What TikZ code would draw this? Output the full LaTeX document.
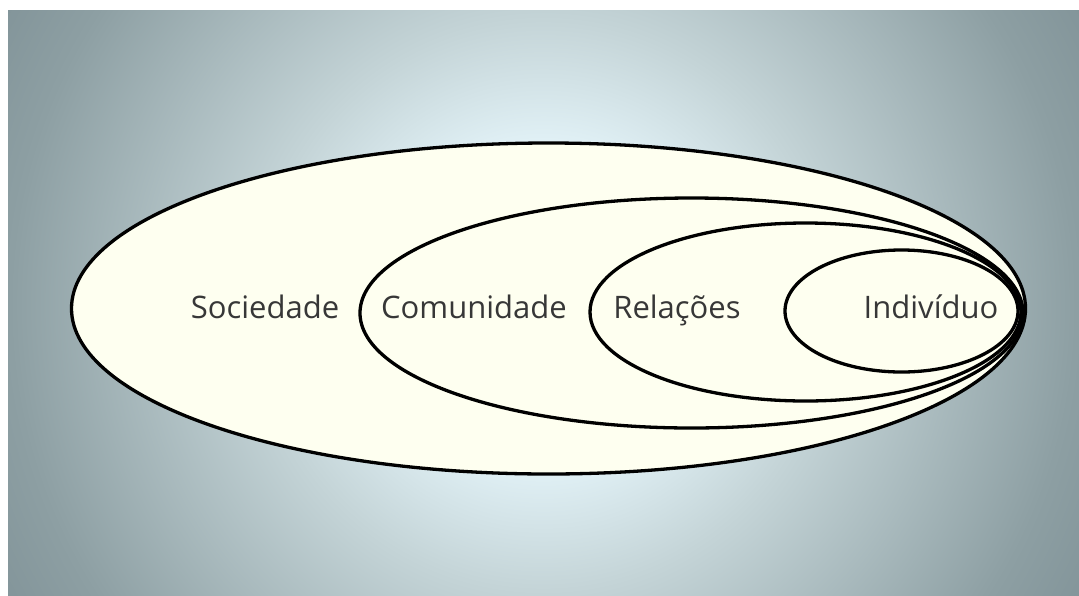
\documentclass[tikz,border=0pt]{standalone}
\usepackage{fontspec}
\setmainfont{Open Sans}
\usepackage{xcolor}
\usepackage{tikz}
\usetikzlibrary{shapes.geometric}
\definecolor{bgin}{RGB}{225,241,246}
\definecolor{bgmid}{RGB}{196,212,215}
\definecolor{bgedge}{RGB}{141,159,163}
\definecolor{bgout}{RGB}{130,148,153}
\definecolor{ivory}{RGB}{254,255,240}
\definecolor{textgray}{RGB}{55,55,55}
\pgfdeclareradialshading{backdrop}{\pgfpoint{0bp}{0bp}}{color(0bp)=(bgin); color(6.5bp)=(bgin); color(11.5bp)=(bgmid); color(21.5bp)=(bgedge); color(25bp)=(bgout); color(50bp)=(bgout)}
\tikzset{ring/.style={draw=black, fill=ivory, ellipse, line width=3.3pt, inner sep=0pt}}
\tikzset{ringlabel/.style={text=textgray, anchor=base, inner sep=0pt, font=\fontsize{31}{36}\selectfont}}

\begin{document}
\begin{tikzpicture}[x=1pt,y=-1pt]
{
\useasboundingbox (0,0) rectangle (1079,595);
\begin{scope}
\clip (8,10) rectangle (1079,595);
\shade[shading=backdrop] (-77,-315) rectangle (1163,925);
\end{scope}
\node[ring, minimum width=954pt, minimum height=331pt] (soc) at (548.5,308.5) {};
\node[ring, minimum width=663pt, minimum height=230pt] (com) at (691.5,313) {};
\node[ring, minimum width=431pt, minimum height=178pt] (rel) at (805.5,312) {};
\node[ring, minimum width=233pt, minimum height=122pt] (ind) at (901.5,311) {};
\node[ringlabel] (socText) at (265,318) {Sociedade};
\node[ringlabel] (comText) at (474,318) {Comunidade};
\node[ringlabel] (relText) at (677,318) {Relações};
\node[ringlabel] (indText) at (931,318) {Indivíduo};
}
\end{tikzpicture}
\end{document}
